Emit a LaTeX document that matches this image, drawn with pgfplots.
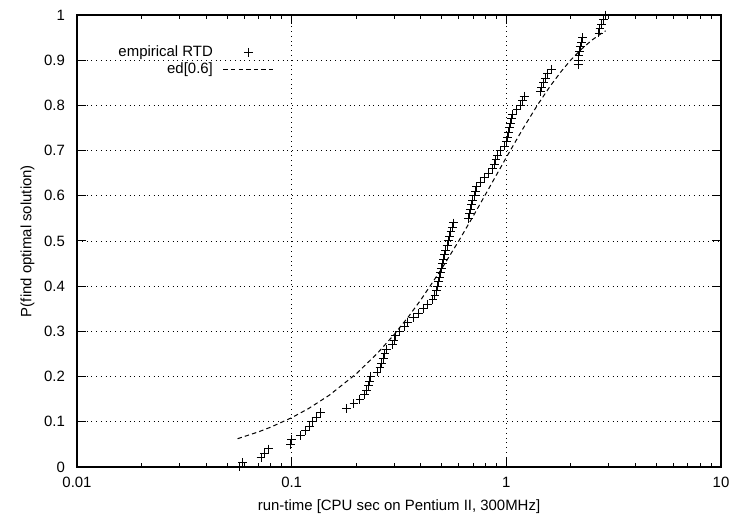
\documentclass[border=0pt]{standalone}
\usepackage{fontspec}
\setmainfont{Liberation Sans}
\usepackage{pgfplots}
\pgfplotsset{compat=1.18}
\newcommand{\lblfont}{\fontsize{7.5}{9}\selectfont}
\begin{document}
\begin{tikzpicture}
\begin{axis}[name=ax, scale only axis, width=322bp, height=226bp,
  xmode=log, xmin=0.01, xmax=10, ymin=0, ymax=1,
  xtick={0.01,0.1,1,10}, xticklabels={0.01,0.1,1,10},
  ytick={0,0.1,0.2,0.3,0.4,0.5,0.6,0.7,0.8,0.9,1},
  yticklabels={0,0.1,0.2,0.3,0.4,0.5,0.6,0.7,0.8,0.9,1},
  tick align=inside, major tick length=4.5bp, minor tick length=2.2bp,
  tick style={black, line width=0.5bp},
  grid=major, major grid style={black, dotted, line width=0.45bp},
  axis line style={line width=0.8bp},
  tick label style={font=\lblfont},
  label style={font=\lblfont},
  xticklabel style={yshift=-1.5bp},
  yticklabel style={xshift=-2.5bp},
  xlabel={run-time [CPU sec on Pentium II, 300MHz]},
  ylabel={P(find optimal solution)},
  xlabel style={yshift=1bp},
  ylabel style={yshift=-2bp},
  legend plot pos=right,
  legend cell align=right,
  legend style={draw=none, fill=none, font=\lblfont, at={(0.053,0.945)}, anchor=north west,
    column sep=4.5bp, row sep=0.5bp,
    nodes={inner sep=0.5bp, text height=5.5bp, text depth=1.5bp}},
]
\addplot[only marks, mark=+, mark size=2.2bp, line width=0.5bp, black,
  legend image code/.code={\path (0bp,0bp) (25bp,0bp); \path plot[only marks, mark=+, mark size=2.2bp, mark options={draw=black, line width=0.5bp}] coordinates {(12.5bp,0bp)};}]
coordinates {
(0.057,0.00) (0.059,0.01) (0.072,0.02) (0.075,0.03) (0.078,0.04)
(0.099,0.05) (0.100,0.06) (0.110,0.07) (0.116,0.08) (0.121,0.09)
(0.125,0.10) (0.130,0.11) (0.136,0.12) (0.180,0.13) (0.195,0.14)
(0.208,0.15) (0.218,0.16) (0.224,0.17) (0.228,0.18) (0.231,0.19)
(0.234,0.20) (0.250,0.21) (0.258,0.22) (0.262,0.23) (0.267,0.24)
(0.272,0.25) (0.276,0.26) (0.295,0.27) (0.300,0.28) (0.305,0.29)
(0.318,0.30) (0.335,0.31) (0.348,0.32) (0.370,0.33) (0.390,0.34)
(0.410,0.35) (0.430,0.36) (0.455,0.37) (0.465,0.38) (0.472,0.39)
(0.478,0.40) (0.483,0.41) (0.488,0.42) (0.493,0.43) (0.497,0.44)
(0.503,0.45) (0.510,0.46) (0.515,0.47) (0.522,0.48) (0.530,0.49)
(0.537,0.50) (0.544,0.51) (0.552,0.52) (0.560,0.53) (0.566,0.54)
(0.665,0.55) (0.672,0.56) (0.680,0.57) (0.690,0.58) (0.698,0.59)
(0.710,0.60) (0.718,0.61) (0.728,0.62) (0.760,0.63) (0.790,0.64)
(0.830,0.65) (0.862,0.66) (0.878,0.67) (0.895,0.68) (0.912,0.69)
(0.935,0.70) (0.982,0.71) (1.000,0.72) (1.013,0.73) (1.024,0.74)
(1.034,0.75) (1.044,0.76) (1.055,0.77) (1.070,0.78) (1.120,0.79)
(1.165,0.80) (1.190,0.81) (1.210,0.82) (1.440,0.83) (1.460,0.84)
(1.490,0.85) (1.520,0.86) (1.560,0.87) (1.620,0.88) (2.160,0.89)
(2.170,0.90) (2.180,0.91) (2.190,0.92) (2.210,0.93) (2.240,0.94)
(2.270,0.95) (2.700,0.96) (2.730,0.97) (2.780,0.98) (2.830,0.99)
(2.900,1.00)
};
\addlegendentry{empirical RTD}
\addplot[black, line width=0.5bp, dash pattern=on 2.2bp off 1.6bp,
  legend image code/.code={\draw[black, line width=0.5bp, dash pattern=on 2.2bp off 1.6bp] (0bp,0bp) -- (25bp,0bp);}]
coordinates {
(0.056,0.06264) (0.07,0.07768) (0.08,0.08828) (0.1,0.10910) (0.12,0.12945)
(0.15,0.15911) (0.2,0.20627) (0.25,0.25084) (0.3,0.29289) (0.35,0.33257)
(0.4,0.37004) (0.5,0.43878) (0.6,0.5) (0.7,0.55455) (0.8,0.60315)
(0.9,0.64645) (1.0,0.68502) (1.2,0.75) (1.4,0.80157) (1.6,0.84251)
(1.8,0.875) (2.0,0.90079) (2.2,0.92125) (2.5,0.94427) (2.8,0.96063)
(2.9,0.96493)
};
\addlegendentry{ed[0.6]}
\end{axis}
\pgfresetboundingbox
\path[use as bounding box] (ax.south west) ++(-38.5bp,-27.5bp) rectangle ++(365.5bp,261bp);
\end{tikzpicture}
\end{document}
